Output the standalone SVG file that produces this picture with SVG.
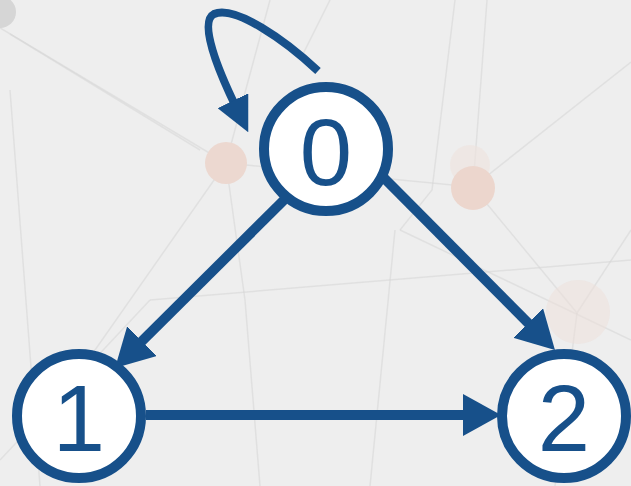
<svg xmlns="http://www.w3.org/2000/svg" width="631" height="486" viewBox="0 0 631 486">
<style>
.bg{stroke:#d6d6d6;stroke-width:1.5;fill:none;opacity:0.55}
.edge{stroke:#17508a;stroke-width:10;fill:none}
.loop{stroke:#17508a;stroke-width:8;fill:none}
.node circle{fill:#ffffff;stroke:#17508a;stroke-width:10}
.node text{font-family:"Liberation Sans",Arial,sans-serif;font-size:94px;fill:#17508a;text-anchor:middle}
</style>
<defs>
<marker id="ah" markerUnits="userSpaceOnUse" viewBox="0 0 38 42" refX="8" refY="21" markerWidth="38" markerHeight="42" orient="auto">
<path d="M0,0 L38,21 L0,42 z" fill="#17508a"/>
</marker>
<marker id="ahs" markerUnits="userSpaceOnUse" viewBox="0 0 35 34" refX="7" refY="17" markerWidth="35" markerHeight="34" orient="auto">
<path d="M0,0 L35,17 L0,34 z" fill="#17508a"/>
</marker>
</defs>
<g id="background">
<rect width="631" height="486" fill="#eeeeee"/>
<circle cx="0" cy="12" r="16" fill="#d6d6d6"/>
<path class="bg" d="M0,28 L226,163 L473,187 L631,62"/>
<path class="bg" d="M10,34 L200,150"/>
<path class="bg" d="M455,0 L432,190 L400,230"/>
<path class="bg" d="M487,0 L473,187"/>
<path class="bg" d="M473,187 L577,313 L631,230"/>
<path class="bg" d="M577,313 L555,486"/>
<path class="bg" d="M226,163 L245,300 L260,486"/>
<path class="bg" d="M226,163 L60,400"/>
<path class="bg" d="M395,230 L370,486"/>
<path class="bg" d="M270,0 L226,163"/>
<path class="bg" d="M330,0 L300,60"/>
<path class="bg" d="M400,230 L631,340"/>
<path class="bg" d="M150,300 L631,260"/>
<path class="bg" d="M0,460 L150,300"/>
<path class="bg" d="M10,90 L40,486"/>
<circle cx="226" cy="163" r="21" fill="#ecd8d0"/>
<circle cx="470" cy="165" r="20" fill="#efe2dd" opacity="0.6"/>
<circle cx="473" cy="188" r="22" fill="#ecd6cd"/>
<circle cx="578" cy="312" r="32" fill="#eedfd9" opacity="0.5"/>
</g>
<g id="edges">
<line class="edge" x1="146" y1="415" x2="471" y2="415" marker-end="url(#ah)"/>
<line class="edge" x1="284" y1="200" x2="136.3" y2="346.8" marker-end="url(#ah)"/>
<line class="edge" x1="384" y1="178" x2="533.8" y2="328.7" marker-end="url(#ah)"/>
<path class="loop" d="M318,71 C285,40 235,5 214,14 C198,22 219,72 236,107" marker-end="url(#ahs)"/>
</g>
<g id="node0" class="node">
<circle cx="326" cy="149" r="62"/>
<text x="326" y="185">0</text>
</g>
<g id="node1" class="node">
<circle cx="79" cy="416" r="62"/>
<text x="79" y="451">1</text>
</g>
<g id="node2" class="node">
<circle cx="564" cy="416" r="62"/>
<text x="564" y="451">2</text>
</g>
</svg>
